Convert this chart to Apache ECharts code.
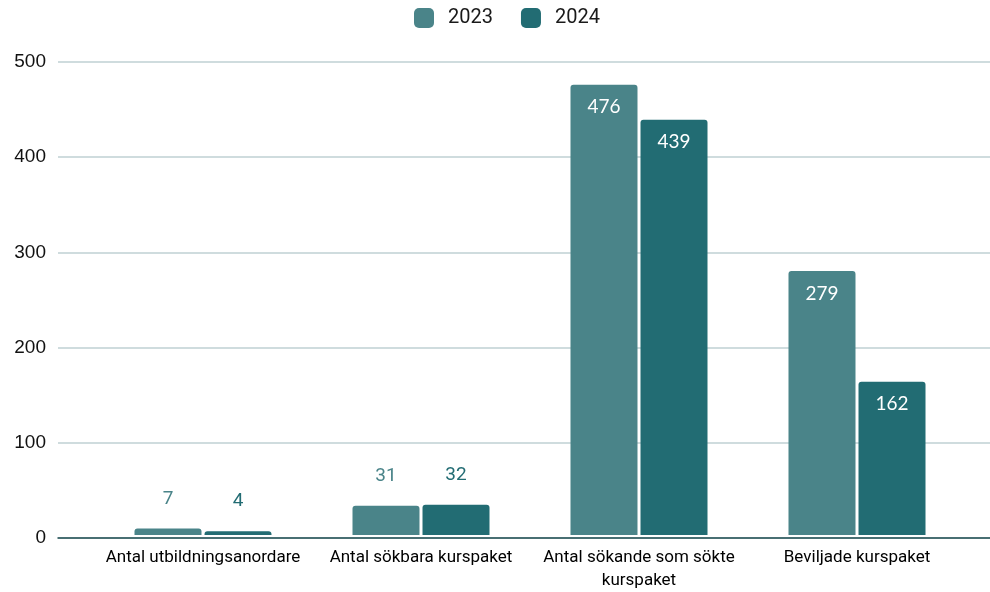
<!DOCTYPE html>
<html>
<head>
<meta charset="utf-8">
<script src="https://cdn.jsdelivr.net/npm/echarts@6/dist/echarts.min.js"></script>
<style>html,body{margin:0;padding:0;background:#fff;}#c{width:990px;height:592px;}</style>
</head>
<body>
<div id="c"></div>
<script>
const categories = ['Antal utbildningsanordare', 'Antal sökbara kurspaket', 'Antal sökande som sökte\nkurspaket', 'Beviljade kurspaket'];
const seriesNames = ['2023', '2024'];
const values2023 = [7, 31, 476, 279];
const values2024 = [4, 32, 439, 162];
const yTicks = [0, 100, 200, 300, 400, 500];

const colors = ['#4a8489', '#226c73'];
function mkData(vals, color) {
  return vals.map(v => v > 100 ? {
    value: v,
    label: { show: true, position: 'insideTop', distance: 13, color: '#ffffff', fontFamily: 'Lato', fontSize: 19 }
  } : {
    value: v,
    label: { show: true, position: 'top', distance: 20, color: color, fontFamily: 'Roboto', fontSize: 19 }
  });
}
const chart = echarts.init(document.getElementById('c'), null, { renderer: 'canvas' });
chart.setOption({
  animation: false,
  backgroundColor: '#ffffff',
  legend: {
    top: 3, left: 409, itemWidth: 20, itemHeight: 20, itemGap: 28,
    textStyle: { fontFamily: 'Roboto', fontSize: 20, color: '#1a1a1a', padding: [0, 0, 0, 9] },
    data: seriesNames.map(n => ({ name: n, icon: 'roundRect' }))
  },
  grid: [
    { left: 58, right: 0, top: 62, bottom: 54 },
    { left: 94, right: 24, top: 62, bottom: 54 }
  ],
  xAxis: [
    { type: 'category', gridIndex: 0, data: categories, axisLabel: { show: false }, axisTick: { show: false },
      axisLine: { show: true, lineStyle: { color: '#1d4b50', width: 1.5 } }, z: 10 },
    { type: 'category', gridIndex: 1, data: categories, axisTick: { show: false }, axisLine: { show: false },
      axisLabel: { margin: 11, fontFamily: 'Roboto', fontSize: 17, color: '#000', lineHeight: 23, interval: 0 } }
  ],
  yAxis: [
    { type: 'value', gridIndex: 0, min: yTicks[0], max: yTicks[yTicks.length - 1], interval: 100,
      axisLabel: { margin: 12, fontFamily: 'Liberation Sans', fontSize: 19, color: '#111' },
      axisLine: { show: false }, axisTick: { show: false },
      splitLine: { lineStyle: { color: '#bfd0d3', width: 1.5 } } },
    { type: 'value', gridIndex: 1, min: yTicks[0], max: yTicks[yTicks.length - 1], interval: 100,
      show: false, splitLine: { show: false } }
  ],
  series: [
    { name: seriesNames[0], type: 'bar', xAxisIndex: 1, yAxisIndex: 1, data: mkData(values2023, colors[0]),
      barWidth: 67, barGap: '4.5%', itemStyle: { color: colors[0], borderRadius: [3, 3, 0, 0] } },
    { name: seriesNames[1], type: 'bar', xAxisIndex: 1, yAxisIndex: 1, data: mkData(values2024, colors[1]),
      barWidth: 67, barGap: '4.5%', itemStyle: { color: colors[1], borderRadius: [3, 3, 0, 0] } }
  ]
});
</script>
</body>
</html>
